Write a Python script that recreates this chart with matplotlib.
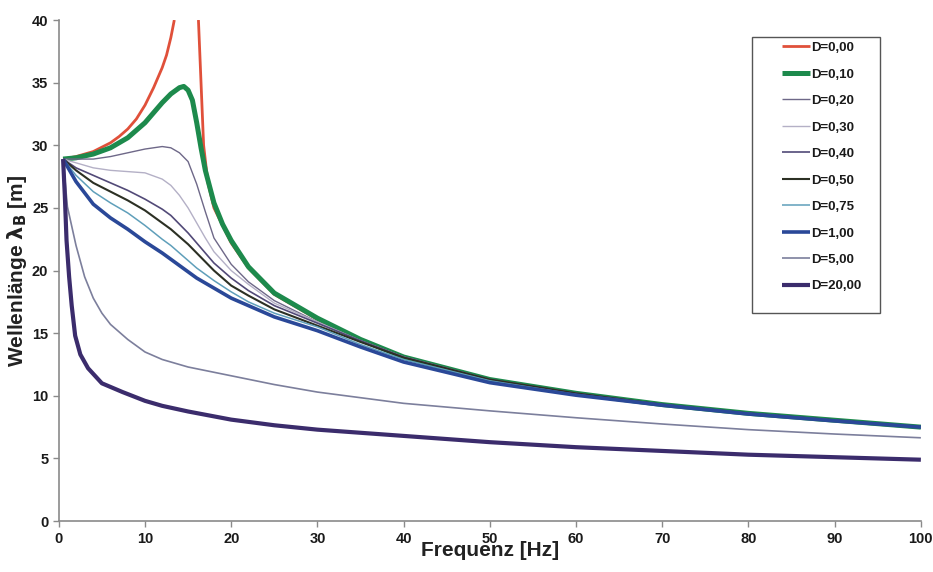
import numpy as np
import matplotlib
matplotlib.use("Agg")
import matplotlib.pyplot as plt
from matplotlib.patches import Rectangle

plt.rcParams['font.family'] = ['Liberation Sans', 'DejaVu Sans']
plt.rcParams['font.weight'] = 'bold'

# frequency grid shared by the damped curves
f_main = [0.5, 2, 4, 6, 8, 10, 12, 13, 14, 15, 16, 17, 18, 20, 22, 25, 30, 35, 40, 50, 60, 70, 80, 90, 100]

# D = 0.00 (resonance, gap around the pole)
f_d000 = [0.5, 2, 4, 6, 7, 8, 9, 10, 11, 12, 12.5, 13, 13.4, 14.8, 16.2, 16.5, 16.8, 17.3, 18, 20, 22, 25, 30, 35, 40, 50, 60, 70, 80, 90, 100]
l_d000 = [28.9, 29.1, 29.5, 30.2, 30.7, 31.3, 32.1, 33.2, 34.6, 36.2, 37.2, 38.6, 40.0, np.nan, 40.0, 35.0, 30.0, 27.0, 25.0, 22.2, 20.2, 18.1, 16.1, 14.5, 13.1, 11.3, 10.2, 9.3, 8.6, 8.05, 7.5]

# D = 0.10
f_d010 = [0.5, 2, 4, 6, 8, 10, 11, 12, 13, 14, 14.5, 15, 15.5, 16, 16.5, 17, 18, 19, 20, 22, 25, 30, 35, 40, 50, 60, 70, 80, 90, 100]
l_d010 = [28.9, 29.0, 29.3, 29.8, 30.6, 31.8, 32.6, 33.4, 34.1, 34.6, 34.7, 34.4, 33.6, 31.8, 29.8, 28.0, 25.4, 23.7, 22.4, 20.3, 18.2, 16.2, 14.5, 13.1, 11.3, 10.2, 9.3, 8.6, 8.05, 7.5]

l_d020 = [28.9, 28.9, 28.9, 29.1, 29.4, 29.7, 29.9, 29.8, 29.4, 28.7, 26.9, 24.7, 22.6, 20.5, 19.1, 17.6, 15.9, 14.4, 13.1, 11.3, 10.2, 9.3, 8.6, 8.05, 7.5]
l_d030 = [28.9, 28.6, 28.2, 28.0, 27.9, 27.8, 27.3, 26.8, 26.0, 25.0, 23.8, 22.6, 21.5, 20.0, 18.9, 17.4, 15.9, 14.4, 13.1, 11.3, 10.2, 9.3, 8.6, 8.05, 7.5]
l_d040 = [28.9, 28.2, 27.6, 27.0, 26.4, 25.7, 24.9, 24.4, 23.7, 23.0, 22.2, 21.4, 20.6, 19.4, 18.4, 17.2, 15.8, 14.4, 13.1, 11.3, 10.2, 9.3, 8.6, 8.05, 7.5]
l_d050 = [28.9, 28.0, 27.0, 26.3, 25.6, 24.8, 23.8, 23.3, 22.7, 22.1, 21.4, 20.7, 20.0, 18.8, 18.0, 16.9, 15.6, 14.3, 13.05, 11.3, 10.2, 9.3, 8.6, 8.05, 7.5]
l_d075 = [28.9, 27.6, 26.3, 25.4, 24.6, 23.6, 22.5, 22.0, 21.4, 20.8, 20.2, 19.7, 19.2, 18.3, 17.5, 16.6, 15.5, 14.1, 12.9, 11.2, 10.1, 9.3, 8.6, 8.05, 7.5]
l_d100 = [28.9, 27.1, 25.3, 24.2, 23.3, 22.3, 21.4, 20.9, 20.4, 19.9, 19.4, 19.0, 18.6, 17.8, 17.2, 16.3, 15.2, 13.9, 12.7, 11.05, 10.05, 9.25, 8.55, 8.0, 7.5]

# D = 5.00
f_d500 = [0.5, 1, 2, 3, 4, 5, 6, 8, 10, 12, 15, 20, 25, 30, 40, 50, 60, 70, 80, 90, 100]
l_d500 = [28.9, 25.1, 22.0, 19.5, 17.8, 16.6, 15.7, 14.5, 13.5, 12.9, 12.3, 11.6, 10.9, 10.3, 9.4, 8.8, 8.25, 7.75, 7.3, 6.95, 6.65]

# D = 20.00
f_d2000 = [0.5, 0.7, 0.9, 1.2, 1.5, 1.9, 2.5, 3.4, 5, 7.4, 10, 12, 15, 20, 25, 30, 40, 50, 60, 70, 80, 90, 100]
l_d2000 = [28.9, 26.0, 22.4, 19.5, 17.2, 14.8, 13.3, 12.2, 11.0, 10.3, 9.6, 9.2, 8.75, 8.1, 7.65, 7.3, 6.8, 6.3, 5.9, 5.6, 5.3, 5.1, 4.9]

labels = ["D=0,00", "D=0,10", "D=0,20", "D=0,30", "D=0,40",
          "D=0,50", "D=0,75", "D=1,00", "D=5,00", "D=20,00"]

series = [
    (f_d000, l_d000, "#e0503a", 2.0),
    (f_d010, l_d010, "#1d8a4c", 3.6),
    (f_main, l_d020, "#6e6888", 1.0),
    (f_main, l_d030, "#b4b0c6", 1.0),
    (f_main, l_d040, "#524a78", 1.2),
    (f_main, l_d050, "#2c3024", 1.5),
    (f_main, l_d075, "#5f9fba", 1.1),
    (f_main, l_d100, "#2a4898", 2.6),
    (f_d500, l_d500, "#7c7f9c", 1.2),
    (f_d2000, l_d2000, "#3b2c6c", 3.0),
]

fig = plt.figure(figsize=(9.33, 5.72), dpi=100)
ax = fig.add_axes([0.063, 0.089, 0.924, 0.876])

handles = []
for (fx, ly, col, lw), lab in zip(series, labels):
    h, = ax.plot(fx, ly, color=col, lw=lw, label=lab, solid_capstyle='butt')
    handles.append(h)

ax.set_xlim(0, 100)
ax.set_ylim(0, 40)
ax.set_xticks(range(0, 101, 10))
ax.set_yticks(range(0, 41, 5))
for s in ['top', 'right']:
    ax.spines[s].set_visible(False)
for s in ['left', 'bottom']:
    ax.spines[s].set_color('#8a8a8a')
    ax.spines[s].set_linewidth(1.2)
ax.tick_params(axis='both', colors='#8a8a8a', length=4, width=1, labelsize=10.5,
               labelcolor='#1a1a1a')
for t in ax.get_xticklabels() + ax.get_yticklabels():
    t.set_fontweight('bold')

ax.set_xlabel("Frequenz [Hz]", fontsize=15, fontweight='bold', color='#222222', labelpad=-3)
ax.set_ylabel(r"Wellenlänge $\mathbf{\lambda_B}$ [m]", fontsize=15, fontweight='bold',
              color='#222222', labelpad=2)

leg = ax.legend(handles=handles, loc='upper left',
                bbox_to_anchor=(770 / 933, 1 - 30 / 572), bbox_transform=fig.transFigure,
                frameon=False, fontsize=9.5, labelspacing=1.08, handlelength=2.1,
                handletextpad=0.15, borderpad=0.4)
for t in leg.get_texts():
    t.set_fontweight('bold')
    t.set_color('#1a1a1a')

# legend frame
fig.patches.append(Rectangle((752 / 933, 1 - 313 / 572), 128 / 933, 276 / 572,
                             transform=fig.transFigure, fill=False,
                             edgecolor='#555555', lw=1.0))

fig.savefig("out.png", dpi=100)
